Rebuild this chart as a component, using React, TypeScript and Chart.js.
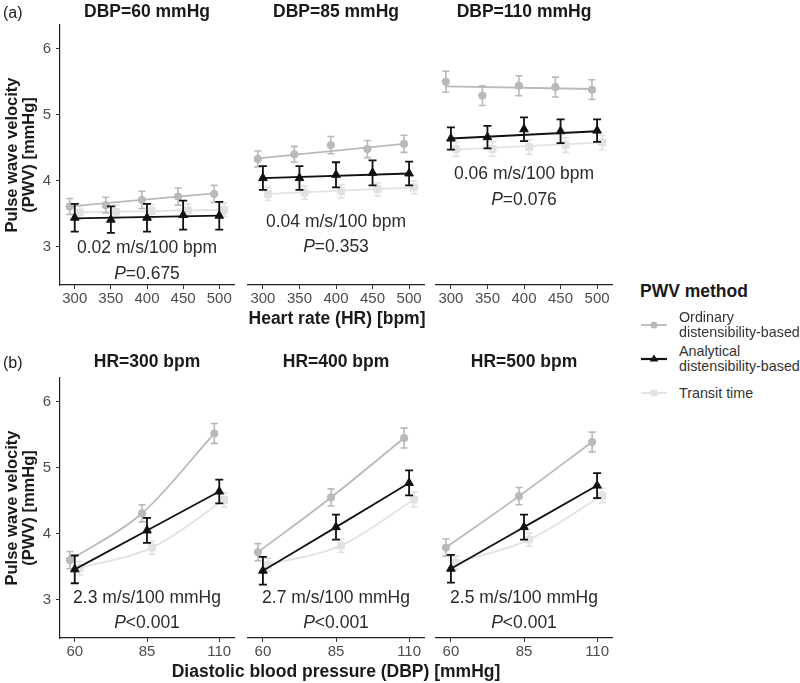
import React, { useEffect, useRef } from 'react';
import { Chart, registerables } from 'chart.js';

Chart.register(...registerables);

const FONT = "'Liberation Sans', Arial, Helvetica, sans-serif";

// ---------------- (a) PWV vs heart rate, one panel per DBP ----------------
const HR_LEVELS = [300, 350, 400, 450, 500];
const HR_TICK_LABELS = ['300', '350', '400', '450', '500'];
const DBP_PANEL_TITLES = ['DBP=60 mmHg', 'DBP=85 mmHg', 'DBP=110 mmHg'];

const ORDINARY_A = [
  [3.61, 3.63, 3.71, 3.76, 3.80],
  [4.33, 4.40, 4.54, 4.48, 4.56],
  [5.50, 5.29, 5.44, 5.42, 5.38],
];
const ORDINARY_A_SE = [
  [0.12, 0.12, 0.13, 0.13, 0.13],
  [0.12, 0.12, 0.13, 0.13, 0.13],
  [0.16, 0.15, 0.15, 0.15, 0.15],
];
const ANALYTICAL_A = [
  [3.44, 3.41, 3.44, 3.48, 3.47],
  [4.04, 4.04, 4.09, 4.12, 4.11],
  [4.64, 4.66, 4.78, 4.75, 4.76],
];
const ANALYTICAL_A_SE = [
  [0.21, 0.20, 0.21, 0.22, 0.21],
  [0.18, 0.18, 0.19, 0.19, 0.18],
  [0.17, 0.17, 0.18, 0.18, 0.17],
];
const TRANSIT_A = [
  [3.52, 3.53, 3.54, 3.55, 3.56],
  [3.80, 3.82, 3.84, 3.87, 3.90],
  [4.48, 4.48, 4.51, 4.54, 4.58],
];
const TRANSIT_A_SE = [
  [0.10, 0.10, 0.10, 0.10, 0.10],
  [0.10, 0.10, 0.10, 0.10, 0.10],
  [0.11, 0.11, 0.11, 0.11, 0.11],
];
// regression lines: value at first and last HR level
const ORDINARY_A_FIT = [[3.61, 3.81], [4.34, 4.56], [5.43, 5.39]];
const ANALYTICAL_A_FIT = [[3.43, 3.47], [4.04, 4.11], [4.64, 4.75]];
const TRANSIT_A_FIT = [[3.52, 3.56], [3.80, 3.90], [4.47, 4.58]];
const SLOPE_A = ['0.02 m/s/100 bpm', '0.04 m/s/100 bpm', '0.06 m/s/100 bpm'];
const PVALUE_A = ['=0.675', '=0.353', '=0.076'];

// ---------------- (b) PWV vs DBP, one panel per HR ----------------
const DBP_LEVELS = [60, 85, 110];
const DBP_TICK_LABELS = ['60', '85', '110'];
const HR_PANEL_TITLES = ['HR=300 bpm', 'HR=400 bpm', 'HR=500 bpm'];

const ORDINARY_B = [
  [3.60, 4.31, 5.52],
  [3.72, 4.55, 5.45],
  [3.79, 4.57, 5.39],
];
const ORDINARY_B_SE = [
  [0.13, 0.13, 0.15],
  [0.13, 0.13, 0.15],
  [0.13, 0.13, 0.15],
];
const ANALYTICAL_B = [
  [3.46, 4.05, 4.64],
  [3.44, 4.10, 4.77],
  [3.47, 4.10, 4.73],
];
const ANALYTICAL_B_SE = [
  [0.21, 0.19, 0.18],
  [0.21, 0.19, 0.19],
  [0.21, 0.19, 0.19],
];
const TRANSIT_B = [
  [3.48, 3.79, 4.51],
  [3.53, 3.82, 4.52],
  [3.56, 3.91, 4.58],
];
const TRANSIT_B_SE = [
  [0.10, 0.10, 0.11],
  [0.10, 0.10, 0.11],
  [0.10, 0.10, 0.11],
];
const SLOPE_B = ['2.3 m/s/100 mmHg', '2.7 m/s/100 mmHg', '2.5 m/s/100 mmHg'];
const PVALUE_B = ['<0.001', '<0.001', '<0.001'];

const Y_TICKS = [3, 4, 5, 6];
const Y_TICK_LABELS = ['3', '4', '5', '6'];
const Y_TITLE = ['Pulse wave velocity', '(PWV) [mmHg]'];
const X_TITLE_A = 'Heart rate (HR) [bpm]';
const X_TITLE_B = 'Diastolic blood pressure (DBP) [mmHg]';
const LEGEND_TITLE = 'PWV method';
const METHOD_LABELS = [
  ['Ordinary', 'distensibility-based'],
  ['Analytical', 'distensibility-based'],
  ['Transit time'],
];

// ---------------- styles & layout ----------------
const METHOD_STYLE = [
  { color: '#b9b9b9', pointStyle: 'circle', radius: 3.7, lineWidth: 1.8, errWidth: 1.6, cap: 3.5, order: 1, dodge: -1 },
  { color: '#111111', pointStyle: 'triangle', radius: 5, lineWidth: 1.8, errWidth: 1.8, cap: 4, order: 0, dodge: 0 },
  { color: '#e2e2e2', pointStyle: 'rect', radius: 4.8, lineWidth: 1.8, errWidth: 1.6, cap: 3.5, order: 2, dodge: 1 },
];
const Y_MIN = 2.42;
const Y_MAX = 6.36;
const COLS = [
  { left: 0, width: 240, padLeft: 0, padRight: 3, showY: true },
  { left: 240, width: 190, padLeft: 8, padRight: 5, showY: false },
  { left: 430, width: 190, padLeft: 5, padRight: 8, showY: false },
];
const ROW_A = { top: 0, height: 330, titlePad: [1.5, 2.5], xMin: 279.6, xMax: 520.4, dodge: 7 };
const ROW_B = { top: 340, height: 343, titlePad: [11.5, 5.5], xMin: 54.9, xMax: 115.1, dodge: 1.7 };
const NOTE_Y_A = [[2.98, 2.59], [3.375, 3.0], [4.1, 3.71]];
const NOTE_Y_B = [[3.03, 2.65], [3.03, 2.65], [3.03, 2.65]];

const errorBarPlugin = {
  id: 'errorBars',
  beforeDatasetDraw(chart: any, args: any) {
    const ds = chart.data.datasets[args.index];
    if (!ds.errors) return;
    const ys = chart.scales.y;
    const ctx = chart.ctx;
    ctx.save();
    ctx.strokeStyle = ds.errColor;
    ctx.lineWidth = ds.errWidth;
    args.meta.data.forEach((pt: any, j: number) => {
      const v = ds.data[j].y;
      const e = ds.errors[j];
      const x = pt.x;
      const yt = ys.getPixelForValue(v + e);
      const yb = ys.getPixelForValue(v - e);
      ctx.beginPath();
      ctx.moveTo(x, yt);
      ctx.lineTo(x, yb);
      ctx.moveTo(x - ds.cap, yt);
      ctx.lineTo(x + ds.cap, yt);
      ctx.moveTo(x - ds.cap, yb);
      ctx.lineTo(x + ds.cap, yb);
      ctx.stroke();
    });
    ctx.restore();
  },
};

function makeNotePlugin(slope: string, pText: string, yVals: number[]) {
  return {
    id: 'notes',
    afterDraw(chart: any) {
      const { ctx, chartArea } = chart;
      const ys = chart.scales.y;
      const cx = (chartArea.left + chartArea.right) / 2;
      const reg = `17.5px ${FONT}`;
      const ita = `italic 17.5px ${FONT}`;
      ctx.save();
      ctx.fillStyle = '#2b2b2b';
      ctx.textBaseline = 'middle';
      ctx.font = reg;
      ctx.textAlign = 'center';
      ctx.fillText(slope, cx, ys.getPixelForValue(yVals[0]));
      ctx.font = ita;
      const w1 = ctx.measureText('P').width;
      ctx.font = reg;
      const w2 = ctx.measureText(pText).width;
      const x0 = cx - (w1 + w2) / 2;
      const y = ys.getPixelForValue(yVals[1]);
      ctx.textAlign = 'left';
      ctx.font = ita;
      ctx.fillText('P', x0, y);
      ctx.font = reg;
      ctx.fillText(pText, x0 + w1, y);
      ctx.restore();
    },
  };
}

type Series = { vals: number[]; se: number[]; fit?: number[] };

function buildConfig(row: any, col: any, title: string, levels: number[], tickLabels: string[], series: Series[], curved: boolean, note: any) {
  const datasets: any[] = [];
  series.forEach((s, k) => {
    const st = METHOD_STYLE[k];
    const off = st.dodge * row.dodge;
    datasets.push({
      data: levels.map((lv, j) => ({ x: lv + off, y: s.vals[j] })),
      errors: s.se,
      errColor: st.color,
      errWidth: st.errWidth,
      cap: st.cap,
      showLine: curved,
      cubicInterpolationMode: 'monotone',
      borderColor: st.color,
      borderWidth: st.lineWidth,
      pointStyle: st.pointStyle,
      pointRadius: st.radius,
      pointBackgroundColor: st.color,
      pointBorderColor: st.color,
      pointBorderWidth: 1,
      order: st.order,
    });
    if (s.fit) {
      datasets.push({
        data: [
          { x: levels[0] + off, y: s.fit[0] },
          { x: levels[levels.length - 1] + off, y: s.fit[1] },
        ],
        showLine: true,
        borderColor: st.color,
        borderWidth: st.lineWidth,
        pointRadius: 0,
        order: st.order + 0.5,
      });
    }
  });

  const tickFont = { family: FONT, size: 15 };
  return {
    type: 'scatter',
    data: { datasets },
    options: {
      animation: false,
      responsive: false,
      devicePixelRatio: 1,
      events: [],
      layout: { padding: { left: col.padLeft, right: col.padRight, top: 0, bottom: 0 } },
      plugins: {
        legend: { display: false },
        tooltip: { enabled: false },
        title: {
          display: true,
          text: title,
          fullSize: false,
          color: '#1a1a1a',
          font: { family: FONT, size: 17.5, weight: 'bold', lineHeight: 1.2 },
          padding: { top: row.titlePad[0], bottom: row.titlePad[1] },
        },
      },
      scales: {
        x: {
          type: 'linear',
          min: row.xMin,
          max: row.xMax,
          afterBuildTicks: (s: any) => {
            s.ticks = levels.map((v) => ({ value: v }));
          },
          afterFit: (s: any) => {
            s.height = 45;
          },
          ticks: {
            callback: (v: number) => tickLabels[levels.indexOf(v)],
            font: tickFont,
            color: '#4d4d4d',
            padding: 1,
            maxRotation: 0,
            autoSkip: false,
          },
          grid: { display: true, drawOnChartArea: false, drawTicks: true, tickLength: 4, color: '#333333', lineWidth: 1 },
          border: { display: true, color: '#222222', width: 1.2 },
        },
        y: {
          type: 'linear',
          display: col.showY,
          min: Y_MIN,
          max: Y_MAX,
          afterBuildTicks: (s: any) => {
            s.ticks = Y_TICKS.map((v) => ({ value: v }));
          },
          afterFit: (s: any) => {
            if (col.showY) s.width = 60;
          },
          ticks: {
            callback: (v: number) => Y_TICK_LABELS[Y_TICKS.indexOf(v)],
            font: tickFont,
            color: '#4d4d4d',
            padding: 5,
          },
          grid: { display: true, drawOnChartArea: false, drawTicks: true, tickLength: 4, color: '#333333', lineWidth: 1 },
          border: { display: true, color: '#222222', width: 1.2 },
          title: {
            display: col.showY,
            text: Y_TITLE,
            color: '#1a1a1a',
            font: { family: FONT, size: 16.5, weight: 'bold', lineHeight: 1.05 },
            padding: { top: 3.3, bottom: 0 },
          },
        },
      },
    },
    plugins: [errorBarPlugin, makeNotePlugin(note.slope, note.p, note.y)],
  };
}

function Panel({ row, col, cfg }: any) {
  const ref = useRef<HTMLCanvasElement>(null);
  useEffect(() => {
    const chart = new Chart(ref.current as HTMLCanvasElement, cfg);
    return () => chart.destroy();
  }, []);
  return (
    <canvas
      ref={ref}
      width={col.width}
      height={row.height}
      style={{ position: 'absolute', left: col.left, top: row.top, width: col.width, height: row.height }}
    />
  );
}

function Text({ x, y, children, size = 16, bold = false, align = 'left', color = '#1a1a1a' }: any) {
  const tx = align === 'center' ? '-50%' : '0';
  return (
    <div
      style={{
        position: 'absolute',
        left: x,
        top: y,
        transform: `translate(${tx}, -50%)`,
        fontFamily: FONT,
        fontSize: size,
        fontWeight: bold ? 'bold' : 'normal',
        color,
        whiteSpace: 'nowrap',
        lineHeight: 1,
      }}
    >
      {children}
    </div>
  );
}

function LegendMarker({ k }: { k: number }) {
  const st = METHOD_STYLE[k];
  const cx = 13;
  const cy = 7;
  let marker: any = null;
  if (st.pointStyle === 'circle') marker = <circle cx={cx} cy={cy} r={3.5} fill={st.color} />;
  else if (st.pointStyle === 'triangle')
    marker = <polygon points={`${cx},${cy - 4.5} ${cx + 4.3},${cy + 2.5} ${cx - 4.3},${cy + 2.5}`} fill={st.color} />;
  else marker = <rect x={cx - 3.3} y={cy - 3.3} width={6.6} height={6.6} fill={st.color} />;
  return (
    <svg width={26} height={14} style={{ position: 'absolute', left: 641, top: LEGEND_Y[k] - 7 }}>
      <line x1={0} y1={cy} x2={26} y2={cy} stroke={st.color} strokeWidth={k === 1 ? 2.2 : 1.8} />
      {marker}
    </svg>
  );
}

const LEGEND_Y = [324.5, 358.5, 393];

export default function App() {
  const panelsA = [0, 1, 2].map((i) => ({
    col: COLS[i],
    cfg: buildConfig(
      ROW_A,
      COLS[i],
      DBP_PANEL_TITLES[i],
      HR_LEVELS,
      HR_TICK_LABELS,
      [
        { vals: ORDINARY_A[i], se: ORDINARY_A_SE[i], fit: ORDINARY_A_FIT[i] },
        { vals: ANALYTICAL_A[i], se: ANALYTICAL_A_SE[i], fit: ANALYTICAL_A_FIT[i] },
        { vals: TRANSIT_A[i], se: TRANSIT_A_SE[i], fit: TRANSIT_A_FIT[i] },
      ],
      false,
      { slope: SLOPE_A[i], p: PVALUE_A[i], y: NOTE_Y_A[i] }
    ),
  }));
  const panelsB = [0, 1, 2].map((i) => ({
    col: COLS[i],
    cfg: buildConfig(
      ROW_B,
      COLS[i],
      HR_PANEL_TITLES[i],
      DBP_LEVELS,
      DBP_TICK_LABELS,
      [
        { vals: ORDINARY_B[i], se: ORDINARY_B_SE[i] },
        { vals: ANALYTICAL_B[i], se: ANALYTICAL_B_SE[i] },
        { vals: TRANSIT_B[i], se: TRANSIT_B_SE[i] },
      ],
      true,
      { slope: SLOPE_B[i], p: PVALUE_B[i], y: NOTE_Y_B[i] }
    ),
  }));

  return (
    <div style={{ position: 'absolute', left: 0, top: 0, width: 800, height: 683, background: '#ffffff', overflow: 'hidden' }}>
      {panelsA.map((p, i) => (
        <Panel key={'a' + i} row={ROW_A} col={p.col} cfg={p.cfg} />
      ))}
      {panelsB.map((p, i) => (
        <Panel key={'b' + i} row={ROW_B} col={p.col} cfg={p.cfg} />
      ))}
      <Text x={3} y={13} size={16} color="#222">(a)</Text>
      <Text x={3} y={363} size={16} color="#222">(b)</Text>
      <Text x={337} y={319} size={17.5} bold align="center">{X_TITLE_A}</Text>
      <Text x={336} y={672} size={17.5} bold align="center">{X_TITLE_B}</Text>
      <Text x={640} y={292} size={17.5} bold>{LEGEND_TITLE}</Text>
      {METHOD_LABELS.map((lines, k) => (
        <React.Fragment key={k}>
          <LegendMarker k={k} />
          <div
            style={{
              position: 'absolute',
              left: 679,
              top: LEGEND_Y[k] - (lines.length * 15) / 2,
              fontFamily: FONT,
              fontSize: 14.3,
              lineHeight: '15px',
              color: '#333',
              whiteSpace: 'nowrap',
            }}
          >
            {lines.map((l, j) => (
              <div key={j}>{l}</div>
            ))}
          </div>
        </React.Fragment>
      ))}
    </div>
  );
}
